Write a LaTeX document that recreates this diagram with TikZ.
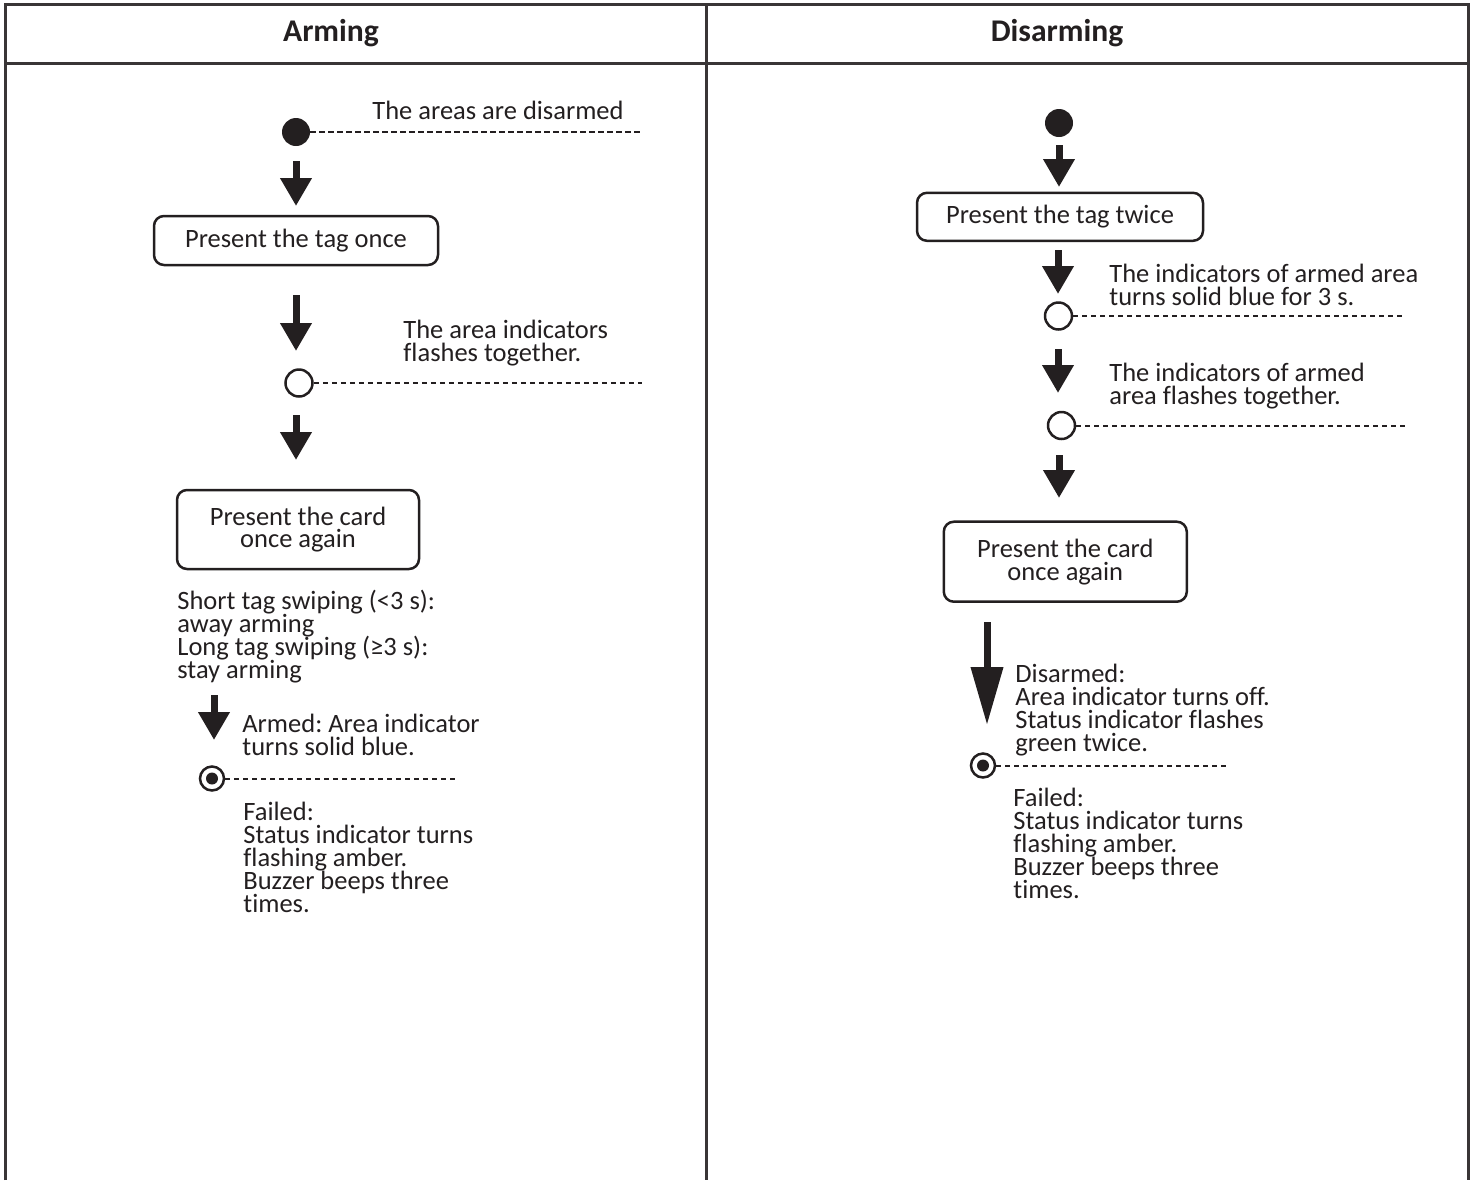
\documentclass[tikz,border=0pt]{standalone}
\usepackage{fontspec}
\setmainfont[Ligatures=NoCommon]{Carlito}
\usetikzlibrary{arrows.meta}
\definecolor{ink}{RGB}{35,31,32}
\frenchspacing
\begin{document}
\begin{tikzpicture}[x=0.5pt,y=-0.5pt,
  every node/.style={text=ink},
  base/.style={font={\fontsize{13.25pt}{11.4pt}\selectfont\lineskiplimit=-20pt\lineskip=0pt\frenchspacing}},
  frame/.style={draw=ink!90, line width=1.5pt},
  stepbox/.style={base, draw=ink, line width=1.25pt, rounded corners=5pt, align=center, inner sep=0pt},
  note/.style={base, anchor=base west, align=left, inner sep=0pt},
  title/.style={font={\fontsize{15.8pt}{13pt}\selectfont\bfseries}, anchor=base, inner sep=0pt},
  startdot/.style={circle, fill=ink, inner sep=0pt, minimum size=14pt},
  opendot/.style={circle, draw=ink, line width=1.25pt, fill=white, inner sep=0pt, minimum size=13.5pt},
  enddot/.style={circle, draw=ink, line width=1.25pt, inner sep=0pt, minimum size=12pt,
     path picture={\fill[ink] (path picture bounding box.center) circle (3pt);}},
  dashline/.style={draw=ink, line width=1pt, dash pattern=on 2.6pt off 1.9pt},
  bigarrow/.style={draw=ink, line width=3.5pt, -{Triangle[width=15pt,length=14pt]}},
  longarrow/.style={draw=ink, line width=3.5pt, -{Triangle[width=15.5pt,length=29pt]}}
]
\useasboundingbox (0,0) rectangle (1477,1180);
% table frame
\draw[frame] (5.5,1180) -- (5.5,4.5) -- (1468,4.5) -- (1468,1180);
\draw[frame] (5.5,63) -- (1468,63);
\draw[frame] (706,4.5) -- (706,1180);
\node[title] (h1) at (331,41) {Arming};
\node[title] (h2) at (1057,41) {Disarming};

% ---------------- Arming ----------------
\node[startdot] (ls) at (296,132) {};
\coordinate (lse) at (642,132);
\draw[dashline] (ls.east) -- (lse);
\node[note] (lt1) at (372,119) {The areas are disarmed};

\coordinate (a1s) at (296,161); \coordinate (a1e) at (296,206);
\draw[bigarrow] (a1s) -- (a1e);

\node[stepbox, minimum width=142pt, minimum height=24.5pt] (lb1) at (296,240.5) {Present the tag once};

\coordinate (a2s) at (296,295); \coordinate (a2e) at (296,351);
\draw[bigarrow] (a2s) -- (a2e);
\node[note] (lt2) at (403,361) {The area indicators\\flashes together.};

\node[opendot] (lo) at (299,383) {};
\coordinate (loe) at (642,383);
\draw[dashline] (lo.east) -- (loe);

\coordinate (a3s) at (296,415); \coordinate (a3e) at (296,460);
\draw[bigarrow] (a3s) -- (a3e);

\node[stepbox, minimum width=121pt, minimum height=39.5pt] (lb2) at (298,529.5) {Present the card\\once again};

\node[note] (lt3) at (177,678) {Short tag swiping (<3 s):\\away arming\\Long tag swiping (≥3 s):\\stay arming};

\coordinate (a4s) at (214,695); \coordinate (a4e) at (214,740);
\draw[bigarrow] (a4s) -- (a4e);
\node[note] (lt4) at (242,755) {Armed: Area indicator\\turns solid blue.};

\node[enddot] (le) at (212,778.5) {};
\coordinate (lee) at (457,778.5);
\draw[dashline] (le.east) -- (lee);
\node[note] (lt5) at (243,912) {Failed:\\Status indicator turns\\flashing amber.\\Buzzer beeps three\\times.};

% ---------------- Disarming ----------------
\node[startdot] (rs) at (1059,123) {};

\coordinate (b1s) at (1059,145); \coordinate (b1e) at (1059,187);
\draw[bigarrow] (b1s) -- (b1e);

\node[stepbox, minimum width=143pt, minimum height=24pt] (rb1) at (1060,216.8) {Present the tag twice};

\coordinate (b2s) at (1058,250); \coordinate (b2e) at (1058,294);
\draw[bigarrow] (b2s) -- (b2e);
\node[note] (rt1) at (1109,305) {The indicators of armed area\\turns solid blue for 3 s.};

\node[opendot] (ro1) at (1058.5,316) {};
\coordinate (ro1e) at (1405,316);
\draw[dashline] (ro1.east) -- (ro1e);

\coordinate (b3s) at (1058,349); \coordinate (b3e) at (1058,393);
\draw[bigarrow] (b3s) -- (b3e);
\node[note] (rt2) at (1109,404) {The indicators of armed\\area flashes together.};

\node[opendot] (ro2) at (1061.5,425.5) {};
\coordinate (ro2e) at (1405,425.5);
\draw[dashline] (ro2.east) -- (ro2e);

\coordinate (b4s) at (1059,455); \coordinate (b4e) at (1059,498);
\draw[bigarrow] (b4s) -- (b4e);

\node[stepbox, minimum width=121.5pt, minimum height=40pt] (rb2) at (1065.3,561.7) {Present the card\\once again};

\coordinate (b5s) at (987,622); \coordinate (b5e) at (987,725);
\draw[longarrow] (b5s) -- (b5e);
\node[note] (rt3) at (1015,751) {Disarmed:\\Area indicator turns off.\\Status indicator flashes\\green twice.};

\node[enddot] (re) at (983,765.5) {};
\coordinate (ree) at (1228,765.5);
\draw[dashline] (re.east) -- (ree);
\node[note] (rt4) at (1013,898) {Failed:\\Status indicator turns\\flashing amber.\\Buzzer beeps three\\times.};
\end{tikzpicture}
\end{document}
